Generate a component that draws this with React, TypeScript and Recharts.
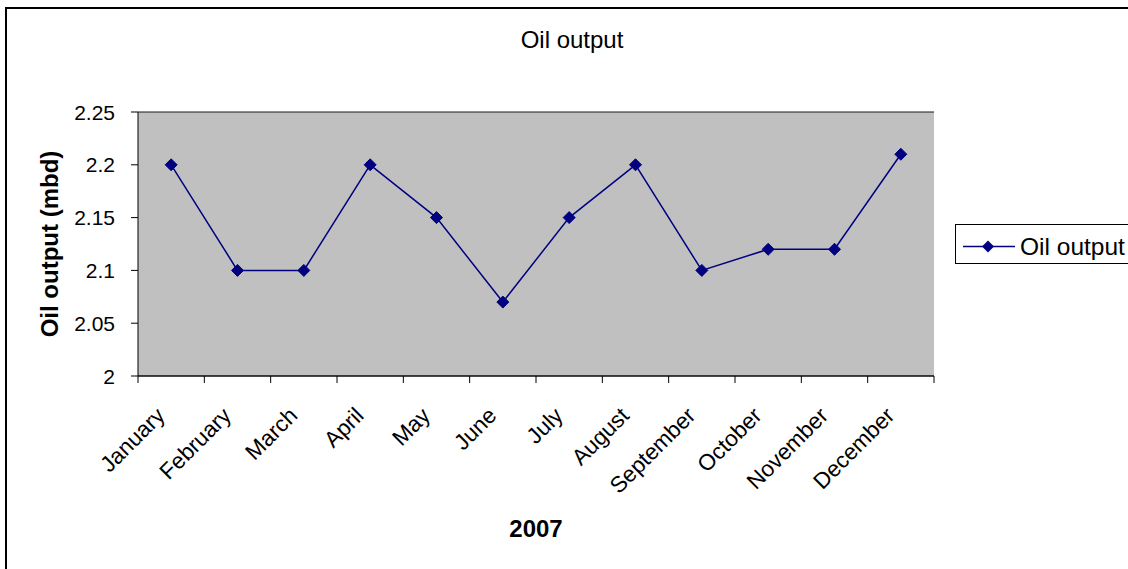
import { LineChart, Line, XAxis, YAxis, CartesianGrid } from "recharts";

const months = [
  "January", "February", "March", "April", "May", "June",
  "July", "August", "September", "October", "November", "December",
];
const oilOutput = [2.2, 2.1, 2.1, 2.2, 2.15, 2.07, 2.15, 2.2, 2.1, 2.12, 2.12, 2.21];
const yTicks = [2, 2.05, 2.1, 2.15, 2.2, 2.25];

const data = months.map((m, i) => ({ month: m, value: oilOutput[i] }));

const W = 1128;
const H = 569;
const PLOT_W = 796;
const BAND = PLOT_W / months.length;
const FONT = "Arial, 'Liberation Sans', sans-serif";
const NAVY = "#000080";

const Diamond = (props: any) => {
  const { cx, cy } = props;
  if (cx == null || cy == null) return null;
  const r = 6;
  return (
    <polygon
      points={`${cx},${cy - r} ${cx + r},${cy} ${cx},${cy + r} ${cx - r},${cy}`}
      fill={NAVY}
      stroke={NAVY}
    />
  );
};

const MonthTick = (props: any) => {
  const { x, y, payload, index } = props;
  const ax = x - 5;
  const ay = y + 41;
  return (
    <g>
      <line x1={x - BAND / 2} x2={x - BAND / 2} y1={y} y2={y + 7} stroke="#000" />
      {index === months.length - 1 && (
        <line x1={x + BAND / 2} x2={x + BAND / 2} y1={y} y2={y + 7} stroke="#000" />
      )}
      <text
        x={ax}
        y={ay}
        textAnchor="end"
        transform={`rotate(-45, ${ax}, ${ay})`}
        fontSize={22.5}
        fontFamily={FONT}
        fill="#000"
      >
        {payload.value}
      </text>
    </g>
  );
};

const ValueTick = (props: any) => {
  const { x, y, payload } = props;
  return (
    <text x={x} y={y} dy="0.36em" textAnchor="end" fontSize={21} fontFamily={FONT} fill="#000">
      {String(payload.value)}
    </text>
  );
};

export default function App() {
  return (
    <div style={{ position: "absolute", left: 0, top: 0, width: W, height: H, overflow: "hidden", background: "#fff" }}>
      <div
        style={{
          position: "absolute",
          left: 5,
          top: 7,
          width: 1200,
          height: 700,
          border: "2px solid #000",
        }}
      />
      <div style={{ position: "absolute", left: 0, top: 0 }}>
        <LineChart
          width={W}
          height={H}
          data={data}
          margin={{ top: 112, right: 194, bottom: 33, left: 0 }}
        >
          <CartesianGrid
            vertical={false}
            stroke="#1a1a1a"
            fill="#C0C0C0"
            fillOpacity={1}
          />
          <XAxis
            dataKey="month"
            interval={0}
            height={160}
            padding={{ left: BAND / 2, right: BAND / 2 }}
            tickLine={false}
            tickSize={0}
            tickMargin={0}
            axisLine={{ stroke: "#000" }}
            tick={<MonthTick />}
            label={(p: any) => {
              const vb = p.viewBox || {};
              return (
                <text
                  x={vb.x + vb.width / 2}
                  y={vb.y + 161}
                  textAnchor="middle"
                  fontSize={24}
                  fontWeight="bold"
                  fontFamily={FONT}
                  fill="#000"
                >
                  2007
                </text>
              );
            }}
          />
          <YAxis
            yAxisId="left"
            width={138}
            domain={[2, 2.25]}
            ticks={yTicks}
            interval={0}
            tickSize={7}
            tickMargin={16}
            tickLine={{ stroke: "#000" }}
            axisLine={{ stroke: "#000" }}
            tick={<ValueTick />}
            label={(p: any) => {
              const vb = p.viewBox || {};
              const lx = vb.x + 58;
              const ly = vb.y + vb.height / 2;
              return (
                <text
                  x={lx}
                  y={ly}
                  textAnchor="middle"
                  transform={`rotate(-90, ${lx}, ${ly})`}
                  fontSize={24}
                  fontWeight="bold"
                  fontFamily={FONT}
                  fill="#000"
                >
                  Oil output (mbd)
                </text>
              );
            }}
          />
          <YAxis
            yAxisId="right"
            orientation="right"
            width={0}
            domain={[2, 2.25]}
            tick={false}
            tickLine={false}
            axisLine={{ stroke: "#808080" }}
          />
          <Line
            yAxisId="left"
            type="linear"
            dataKey="value"
            name="Oil output"
            stroke={NAVY}
            strokeWidth={1.5}
            dot={<Diamond />}
            activeDot={false}
            isAnimationActive={false}
          />
        </LineChart>
      </div>
      <svg
        width={W}
        height={H}
        style={{ position: "absolute", left: 0, top: 0, pointerEvents: "none" }}
      >
        <text x={572} y={48} textAnchor="middle" fontSize={24} fontFamily={FONT} fill="#000">
          Oil output
        </text>
        <rect x={955.5} y={224.5} width={200} height={39} fill="#fff" stroke="#000" />
        <line x1={963} x2={1015} y1={246.5} y2={246.5} stroke={NAVY} strokeWidth={1.5} />
        <polygon points="988,240.5 994,246.5 988,252.5 982,246.5" fill={NAVY} />
        <text x={1020} y={255} fontSize={24.5} fontFamily={FONT} fill="#000">
          Oil output
        </text>
      </svg>
    </div>
  );
}
